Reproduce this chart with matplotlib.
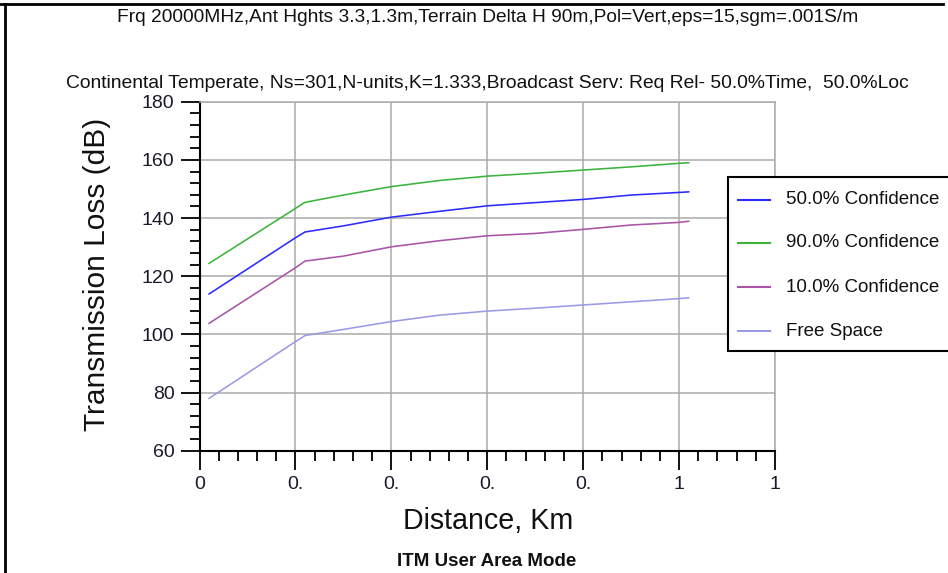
import matplotlib
matplotlib.use("Agg")
import matplotlib.pyplot as plt
from matplotlib.ticker import MultipleLocator, FixedLocator, FixedFormatter
from matplotlib.lines import Line2D
from matplotlib.patches import Rectangle

plt.rcParams['font.family'] = ['Liberation Sans', 'DejaVu Sans']

# ---------------- data ----------------
distance_km = [0.02, 0.2, 0.22, 0.3, 0.4, 0.5, 0.6, 0.7, 0.8, 0.9, 1.0, 1.02]
loss_50 = [113.9, 133.2, 135.2, 137.3, 140.3, 142.3, 144.2, 145.3, 146.4, 147.9, 148.8, 149.0]
loss_90 = [124.4, 143.3, 145.4, 147.9, 150.8, 152.9, 154.4, 155.4, 156.5, 157.6, 158.8, 159.0]
loss_10 = [103.8, 122.9, 125.2, 126.9, 130.1, 132.2, 133.9, 134.7, 136.1, 137.6, 138.5, 138.9]
loss_free = [78.0, 97.5, 99.6, 101.7, 104.4, 106.6, 108.0, 109.0, 110.1, 111.2, 112.3, 112.6]

series_labels = ['50.0% Confidence', '90.0% Confidence', '10.0% Confidence', 'Free Space']
series_colors = ['#2b2bff', '#3cb43c', '#a855a8', '#9a9ae6']

x_ticks = [0, 0.2, 0.4, 0.6, 0.8, 1.0, 1.2]
x_tick_labels = ['0', '0.', '0.', '0.', '0.', '1', '1']
y_ticks = [60, 80, 100, 120, 140, 160, 180]

title1 = "Frq 20000MHz,Ant Hghts 3.3,1.3m,Terrain Delta H 90m,Pol=Vert,eps=15,sgm=.001S/m"
title2 = "Continental Temperate, Ns=301,N-units,K=1.333,Broadcast Serv: Req Rel- 50.0%Time,  50.0%Loc"
x_label = "Distance, Km"
y_label = "Transmission Loss (dB)"
footer = "ITM User Area Mode"

# ---------------- figure ----------------
W, H = 948, 573
fig = plt.figure(figsize=(W / 100, H / 100), dpi=100)
fig.patch.set_facecolor('white')

def fx(px):
    return px / W

def fy(py):
    return 1 - py / H

x0, x1, yt, yb = 199.5, 775.0, 101.7, 450.7
ax = fig.add_axes([fx(x0), fy(yb), (x1 - x0) / W, (yb - yt) / H])

grid_col = '#ababab'
handles = []
for ys, lab, col in zip([loss_50, loss_90, loss_10, loss_free], series_labels, series_colors):
    h, = ax.plot(distance_km, ys, color=col, lw=1.15, label=lab, zorder=3)
    handles.append(h)

ax.set_xlim(0, 1.2)
ax.set_ylim(60, 180)
ax.xaxis.set_major_locator(FixedLocator(x_ticks))
ax.xaxis.set_major_formatter(FixedFormatter(x_tick_labels))
ax.xaxis.set_minor_locator(MultipleLocator(0.04))
ax.yaxis.set_major_locator(FixedLocator(y_ticks))
ax.yaxis.set_minor_locator(MultipleLocator(4))

ax.grid(True, which='major', color=grid_col, lw=1.1, zorder=1)
ax.set_axisbelow(True)
for s in ['left', 'bottom']:
    ax.spines[s].set_color('black')
    ax.spines[s].set_linewidth(1.5)
for s in ['top', 'right']:
    ax.spines[s].set_color(grid_col)
    ax.spines[s].set_linewidth(1.1)

ax.tick_params(which='major', direction='out', length=13.5, width=1.3, color='black',
               pad=4.5, labelsize=14, labelcolor='#1a1a2a', top=False, right=False)
ax.tick_params(which='minor', direction='out', length=7, width=1.3, color='black',
               top=False, right=False)

# texts
t1 = fig.text(fx(488), fy(17), title1, ha='center', va='center', fontsize=12, color='#111111')
t2 = fig.text(fx(487), fy(84), title2, ha='center', va='center', fontsize=12, color='#111111')
tx = fig.text(fx(488), fy(521), x_label, ha='center', va='center', fontsize=20, color='#111111')
ty = fig.text(fx(97), fy(274), y_label, ha='center', va='center', rotation=90, fontsize=20, color='#111111')
tf = fig.text(fx(487), fy(561), footer, ha='center', va='center', fontsize=11, fontweight='bold', color='#111111')

fig.canvas.draw()
r = fig.canvas.get_renderer()

def fit(t, target, use_height=False):
    bb = t.get_window_extent(r)
    cur = bb.height if use_height else bb.width
    t.set_fontsize(t.get_fontsize() * target / cur)

fit(t1, 740)
fit(t2, 842)
fit(tx, 170)
fit(ty, 312, use_height=True)
fit(tf, 179)

# legend box (drawn in figure pixels, extends past the right edge like the reference)
fig.add_artist(Rectangle((fx(728.3), fy(350.7)), (960 - 728.3) / W, (350.7 - 177.3) / H,
                         transform=fig.transFigure, facecolor='white', edgecolor='black',
                         lw=1.5, zorder=5))
row_y = [200, 243, 287, 331]
for h, lab, yy in zip(handles, series_labels, row_y):
    fig.add_artist(Line2D([fx(738), fx(770)], [fy(yy), fy(yy)], transform=fig.transFigure,
                          color=h.get_color(), lw=1.5, zorder=6))
    fig.text(fx(786), fy(yy), lab, ha='left', va='center', fontsize=13.5,
             color='#111111', zorder=6)

# outer window border (top and left)
fig.add_artist(Line2D([0, fx(943)], [fy(4), fy(4)], transform=fig.transFigure,
                      color='black', lw=2))
fig.add_artist(Line2D([fx(5), fx(5)], [0, fy(4)], transform=fig.transFigure,
                      color='black', lw=2))

fig.savefig('out.png', dpi=100, facecolor='white')
